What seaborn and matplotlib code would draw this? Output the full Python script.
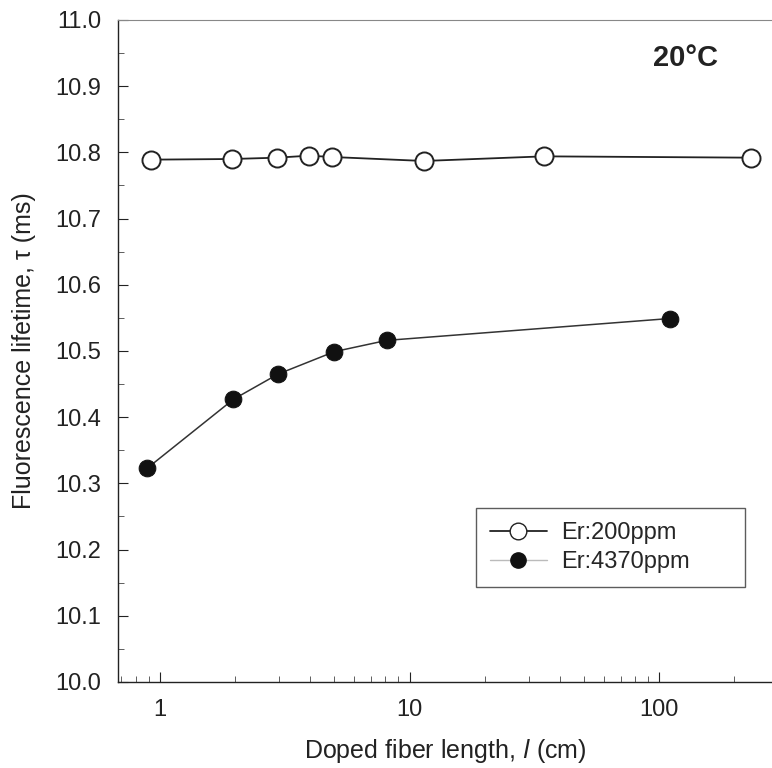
import numpy as np
import pandas as pd
import matplotlib
matplotlib.use("Agg")
import matplotlib.pyplot as plt
from matplotlib.lines import Line2D
import seaborn as sns

# Dados
comprimento_200 = [0.92, 1.95, 2.95, 3.95, 4.9, 11.4, 34.5, 233]
tempo_200 = [10.789, 10.790, 10.792, 10.795, 10.793, 10.787, 10.794, 10.792]

comprimento_4370 = [0.89, 1.97, 2.97, 5.0, 8.1, 110]
tempo_4370 = [10.323, 10.427, 10.465, 10.499, 10.516, 10.549]

rotulos = ["Er:200ppm", "Er:4370ppm"]

sns.set_style("ticks")
plt.rcParams["font.family"] = ["Liberation Sans", "DejaVu Sans"]

fig = plt.figure(figsize=(7.72, 7.68), dpi=100)
ax = fig.add_axes([0.153, 0.112, 0.847, 0.862])

# Série de baixa concentração (círculos abertos)
sns.lineplot(
    x=comprimento_200,
    y=tempo_200,
    ax=ax,
    color="#222222",
    linewidth=1.3,
    marker="o",
    markersize=13,
    markerfacecolor="white",
    markeredgecolor="#222222",
    markeredgewidth=1.4,
)

# Série de alta concentração (círculos cheios)
sns.lineplot(
    x=comprimento_4370,
    y=tempo_4370,
    ax=ax,
    color="#333333",
    linewidth=1.1,
    marker="o",
    markersize=12,
    markerfacecolor="#111111",
    markeredgecolor="#111111",
)

ax.set_xscale("log")
ax.set_xlim(0.68, 283)
ax.set_ylim(10.0, 11.0)
ax.set_xticks([1, 10, 100])
ax.set_xticklabels(["1", "10", "100"])
ax.set_yticks(np.arange(10.0, 11.01, 0.1))
ax.set_yticklabels([f"{v:.1f}" for v in np.arange(10.0, 11.01, 0.1)])
ax.set_yticks(np.arange(10.05, 11.0, 0.1), minor=True)

ax.tick_params(axis="both", which="major", direction="in", length=7,
               labelsize=17, colors="#222222", pad=12)
ax.tick_params(axis="both", which="minor", direction="in", length=4,
               colors="#444444")

for lado in ["left", "bottom"]:
    ax.spines[lado].set_color("#222222")
    ax.spines[lado].set_linewidth(1.0)
ax.spines["top"].set_color("#888888")
ax.spines["top"].set_linewidth(0.8)
ax.spines["right"].set_visible(False)

ax.set_xlabel("Doped fiber length, $\\it{l}$ (cm)", fontsize=18,
              color="#222222", labelpad=12)
ax.set_ylabel("Fluorescence lifetime, τ (ms)", fontsize=18,
              color="#222222", labelpad=14)

ax.text(0.868, 0.942, "20°C", transform=ax.transAxes, fontsize=21,
        fontweight="bold", ha="center", va="center", color="#222222")

# Legenda
handles = [
    Line2D([], [], color="#222222", linewidth=1.3, marker="o", markersize=12,
           markerfacecolor="white", markeredgecolor="#222222"),
    Line2D([], [], color="#bbbbbb", linewidth=1.0, marker="o", markersize=11,
           markerfacecolor="#111111", markeredgecolor="#111111"),
]
leg = ax.legend(handles, rotulos, loc="upper left",
                bbox_to_anchor=(0.547, 0.134, 0.412, 0.129), mode="expand",
                fontsize=17, frameon=True,
                fancybox=False, edgecolor="#333333", handlelength=2.4,
                handletextpad=0.6, borderpad=0.6, labelspacing=0.3,
                borderaxespad=0)
leg.get_frame().set_linewidth(1.0)

fig.savefig("out.png", dpi=100)
